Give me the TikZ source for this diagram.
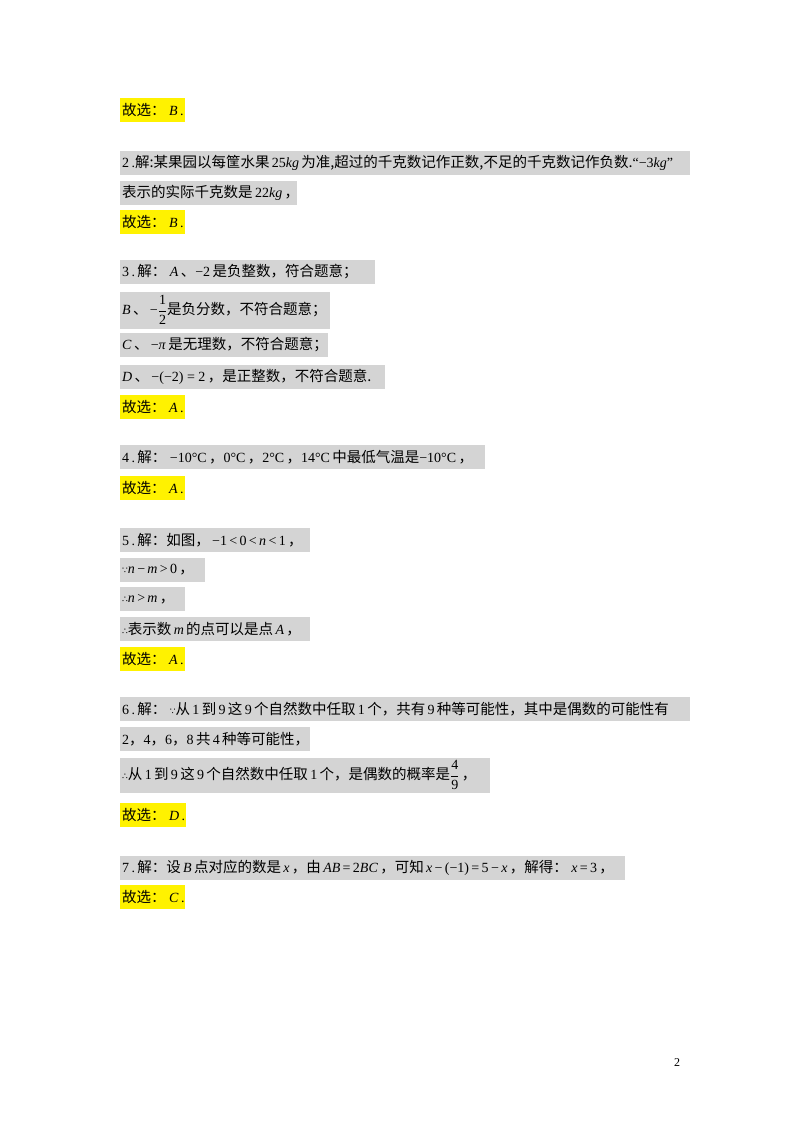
\documentclass[tikz,border=0pt]{standalone}
\usepackage{amsmath}
\usepackage{fontspec}
\setmainfont{Liberation Serif}
\newfontfamily\cjk{Noto Sans CJK SC}
\newfontfamily\djv{DejaVu Sans}
\newcommand\zh[1]{{\cjk\fontsize{14.5}{15}\selectfont #1}}
\newcommand\mi[1]{\textit{#1}}
\newcommand\mn{−}
\newcommand\cm{\,\zh{，}}
\newcommand\bec{{\djv\fontsize{9}{10}\selectfont ∵}}
\newcommand\thr{{\djv\fontsize{9}{10}\selectfont ∴}}
\begin{document}
\begin{tikzpicture}[x=1pt,y=-1pt,
  gbox/.style={fill=black!17},
  ybox/.style={fill=yellow},
  txt/.style={anchor=west,inner sep=0pt,font=\fontsize{14}{15}\selectfont}]
\useasboundingbox (0,0) rectangle (800,1132);
\fill[white] (0,0) rectangle (800,1132);
\foreach \a/\b/\c in {98/122/185,210/234/185,395/419/185,476/500/185,647/671/185,803/827/186,885/909/185}
  \fill[ybox] (120,\a) rectangle (\c,\b);
\foreach \a/\b/\c in {151/175/690,181/205/297,260/284/375,292/329/330,333/357/328,365/389/385,445/469/485,528/552/310,558/582/205,587/611/185,617/641/310,697/721/690,727/751/310,758/793/490,856/880/625}
  \fill[gbox] (120,\a) rectangle (\c,\b);
\def\gx{\zh{故选：}\ }
\node[txt] (g1) at (122,110) {\gx\mi{B}\,.};
\node[txt] (l2a) at (122,163) {2\,.\zh{解:某果园以每筐水果}\,25\mi{kg}\,\zh{为准,超过的千克数记作正数,不足的千克数记作负数.}“\mn3\mi{kg}”};
\node[txt] (l2b) at (122,193) {\zh{表示的实际千克数是}\,22\mi{kg}\cm};
\node[txt] (g2) at (122,222) {\gx\mi{B}\,.};
\node[txt] (l3a) at (122,272) {3\,.\,\zh{解：}\ \mi{A}\,\zh{、}\mn2\,\zh{是负整数，符合题意；}};
\node[txt] (l3b) at (122,310) {\mi{B}\,\zh{、}\,\mn$\dfrac{\text{1}}{\text{2}}$\zh{是负分数，不符合题意；}};
\node[txt] (l3c) at (122,345) {\mi{C}\,\zh{、}\,\mn\mi{π}\,\zh{是无理数，不符合题意；}};
\node[txt] (l3d) at (122,377) {\mi{D}\,\zh{、}\,\mn(\mn2) = 2\cm\zh{是正整数，不符合题意.}};
\node[txt] (g3) at (122,407) {\gx\mi{A}\,.};
\node[txt] (l4) at (122,457) {4\,.\,\zh{解：}\ \mn10°C\cm 0°C\cm 2°C\cm 14°C\,\zh{中最低气温是}\mn10°C\cm};
\node[txt] (g4) at (122,488) {\gx\mi{A}\,.};
\node[txt] (l5a) at (122,540) {5\,.\,\zh{解：如图，}\,\mn1\,<\,0\,<\,\mi{n}\,<\,1\cm};
\node[txt] (l5b) at (122,570) {\bec\mi{n}\,\mn\,\mi{m}\,>\,0\cm};
\node[txt] (l5c) at (122,599) {\thr\mi{n}\,>\,\mi{m}\cm};
\node[txt] (l5d) at (122,629) {\thr\zh{表示数}\,\mi{m}\,\zh{的点可以是点}\,\mi{A}\cm};
\node[txt] (g5) at (122,659) {\gx\mi{A}\,.};
\node[txt] (l6a) at (122,709) {6\,.\,\zh{解：}\ \bec\zh{从}\,1\,\zh{到}\,9\,\zh{这}\,9\,\zh{个自然数中任取}\,1\,\zh{个，共有}\,9\,\zh{种等可能性，其中是偶数的可能性有}};
\node[txt] (l6b) at (122,739) {2\zh{，}4\zh{，}6\zh{，}8\,\zh{共}\,4\,\zh{种等可能性，}};
\node[txt] (l6c) at (122,775) {\thr\zh{从}\,1\,\zh{到}\,9\,\zh{这}\,9\,\zh{个自然数中任取}\,1\,\zh{个，是偶数的概率是}$\dfrac{\text{4}}{\text{9}}$\cm};
\node[txt] (g6) at (122,815) {\gx\mi{D}\,.};
\node[txt] (l7) at (122,868) {7\,.\,\zh{解：设}\,\mi{B}\,\zh{点对应的数是}\,\mi{x}\cm\zh{由}\,\mi{AB}\,=\,2\mi{BC}\cm\zh{可知}\,\mi{x}\,\mn\,(\mn1)\,=\,5\,\mn\,\mi{x}\cm\zh{解得：}\ \mi{x}\,=\,3\cm};
\node[txt] (g7) at (122,897) {\gx\mi{C}\,.};
\node[anchor=center,inner sep=0pt,font=\fontsize{12}{13}\selectfont] (pg) at (677,1063) {2};
\end{tikzpicture}
\end{document}
